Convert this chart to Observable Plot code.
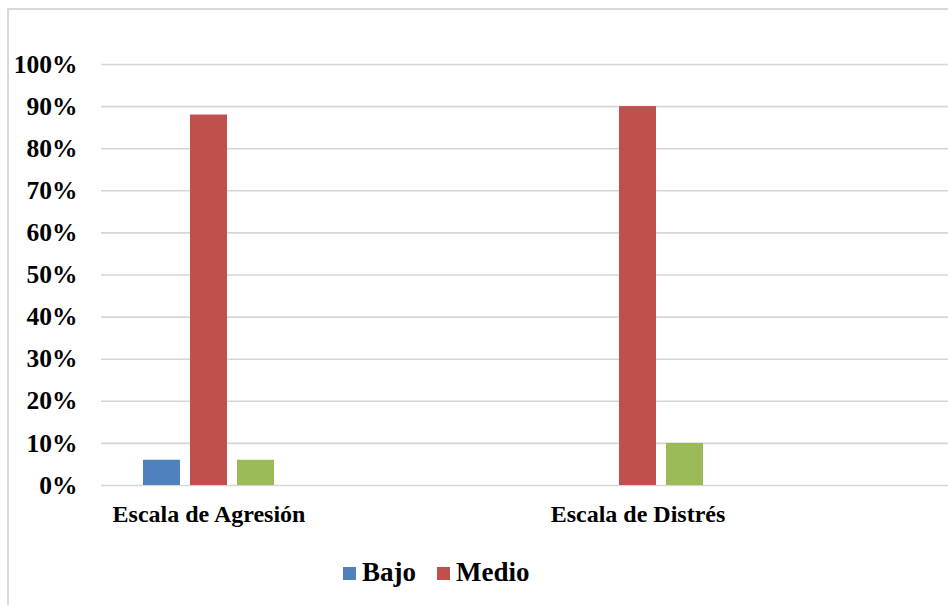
<!DOCTYPE html>
<html>
<head>
<meta charset="utf-8">
<script src="https://cdn.jsdelivr.net/npm/d3@7"></script>
<script src="https://cdn.jsdelivr.net/npm/@observablehq/plot@0.6"></script>
<style>
  html, body { margin: 0; padding: 0; background: #fff; }
  #chart { position: relative; width: 948px; height: 605px; overflow: hidden; }
  #frame { position: absolute; left: 7px; top: 8px; width: 1000px; height: 700px;
           border: 2px solid #d9d9d9; box-sizing: border-box; }
  #plot { position: absolute; left: 0; top: 0; }
  #plot svg [aria-label^="y-axis"] text { font-size: 25.5px; }
  #legend { position: absolute; left: 343px; top: 557px; display: flex; align-items: center;
            font-family: "Liberation Serif", "Times New Roman", serif; font-weight: bold;
            font-size: 27px; line-height: 30px; color: #000; }
  #legend .item { display: flex; align-items: center; margin-right: 21px; }
  #legend .sw { width: 13px; height: 13px; margin-right: 6px; margin-top: 3px; }
</style>
</head>
<body>
<div id="chart">
  <div id="frame"></div>
  <div id="plot"></div>
  <div id="legend"></div>
</div>
<script>
// Escalas evaluadas y niveles
const escalas = ["Escala de Agresión", "Escala de Distrés"];
const niveles = ["Bajo", "Medio", "Alto"];
const colores = ["#4f81bd", "#c0504d", "#9bbb59"];

// Porcentaje de cada nivel por escala
const bajo  = [0.06, 0.00];
const medio = [0.88, 0.90];
const alto  = [0.06, 0.10];

// Niveles mostrados en la leyenda
const nivelesLeyenda = ["Bajo", "Medio"];

// Marcas del eje vertical
const ticksY = d3.range(0, 11).map(i => i / 10);

const valores = [bajo, medio, alto];
const filas = [];
niveles.forEach((n, i) => escalas.forEach((e, j) => {
  filas.push({escala: e, nivel: n, valor: valores[i][j]});
}));

const anchoBarra = 37;
const paso = 47;
const anchoBanda = 429;
const inset = (anchoBanda - anchoBarra) / 2;

const barras = niveles.map((n, i) =>
  Plot.barY(filas.filter(d => d.nivel === n && d.valor > 0), {
    x: "escala", y: "valor", fill: "nivel",
    dx: (i - 1) * paso, insetLeft: inset, insetRight: inset
  })
);

const chart = Plot.plot({
  width: 948,
  height: 530,
  marginTop: 64,
  marginBottom: 45,
  marginLeft: 101,
  marginRight: 0,
  style: {
    fontFamily: "'Liberation Serif', 'Times New Roman', serif",
    fontSize: "24px",
    fontWeight: "bold",
    color: "#000",
    background: "transparent"
  },
  x: {
    type: "band", domain: escalas, range: [-6, -6 + 2 * anchoBanda], padding: 0,
    tickSize: 0, tickPadding: 19, label: null
  },
  y: {
    domain: [0, 1], ticks: ticksY, tickFormat: d3.format(".0%"),
    tickSize: 0, tickPadding: 24, label: null
  },
  color: { domain: niveles, range: colores },
  marks: [
    Plot.ruleY(ticksY, {stroke: "#d6d6d6", strokeWidth: 1.6}),
    ...barras
  ]
});
document.getElementById("plot").appendChild(chart);

// Leyenda
const leyenda = d3.select("#legend");
nivelesLeyenda.forEach(n => {
  const item = leyenda.append("div").attr("class", "item");
  item.append("div").attr("class", "sw").style("background", colores[niveles.indexOf(n)]);
  item.append("span").text(n);
});
</script>
</body>
</html>
